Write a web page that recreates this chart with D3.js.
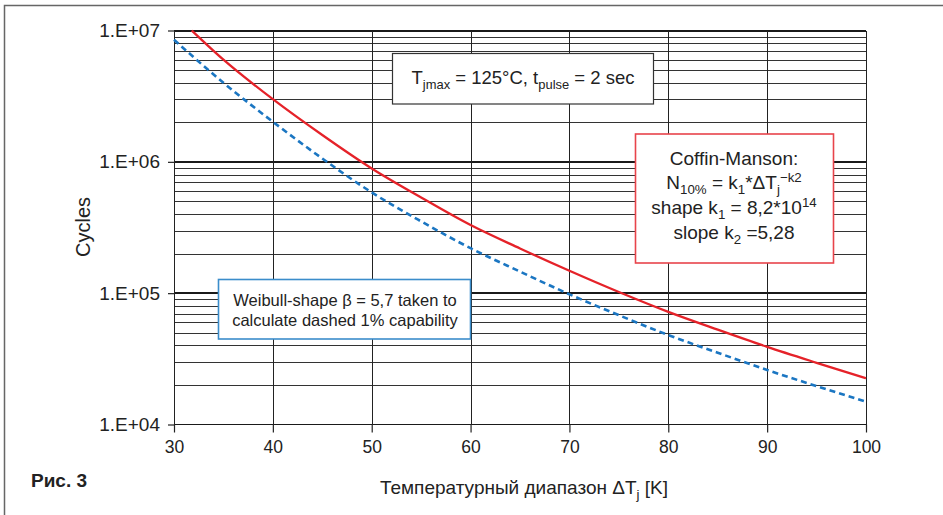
<!DOCTYPE html>
<html>
<head>
<meta charset="utf-8">
<script src="https://cdn.jsdelivr.net/npm/d3@7"></script>
<style>
  body { margin: 0; background: #fff; }
  svg { display: block; font-family: "Liberation Sans", Arial, sans-serif; }
</style>
</head>
<body>
<div id="chart"></div>
<script>
// values
let dT_red = [31.8, 35, 40, 45, 50, 55, 60, 65, 70, 75, 80, 85, 90, 95, 100];
let cycles_red = [1.0e7, 6.0e6, 3.0e6, 1.6e6, 8.9e5, 5.35e5, 3.3e5, 2.19e5, 1.48e5, 1.02e5, 7.2e4, 5.27e4, 3.9e4, 2.95e4, 2.25e4];
let dT_blue = [30, 35, 40, 45, 50, 55, 60, 65, 70, 75, 80, 85, 90, 95, 100];
let cycles_blue = [8.5e6, 4.0e6, 2.02e6, 1.06e6, 5.85e5, 3.52e5, 2.2e5, 1.46e5, 9.8e4, 6.8e4, 4.8e4, 3.52e4, 2.6e4, 1.96e4, 1.49e4];
let xTicks = [30, 40, 50, 60, 70, 80, 90, 100];
let yTicks = [1e4, 1e5, 1e6, 1e7];
let yTickLabels = ['1.E+04', '1.E+05', '1.E+06', '1.E+07'];

let width = 943;
let height = 515;

let x = d3.scaleLinear().domain([30, 100]).range([174, 866]);
let y = d3.scaleLog().domain([1e4, 1e7]).range([424.5, 30.5]);

let svg = d3.select('#chart').append('svg')
            .attr('width', width)
            .attr('height', height);

// outer frame (top + left)
svg.append('path')
    .attr('d', 'M4.5,515 V5.5 H943')
    .attr('fill', 'none')
    .attr('stroke', '#666')
    .attr('stroke-width', 1.5);

// grid
let grid = svg.append('g').attr('shape-rendering', 'crispEdges');
let minor = [];
for (let e = 4; e < 7; e++) {
    for (let k = 2; k <= 9; k++) minor.push(k * Math.pow(10, e));
}
grid.selectAll('.hminor').data(minor).join('line')
    .attr('x1', x(30)).attr('x2', x(100))
    .attr('y1', d => Math.round(y(d)) + 0.5).attr('y2', d => Math.round(y(d)) + 0.5)
    .attr('stroke', '#333').attr('stroke-width', 1);
grid.selectAll('.hmajor').data(yTicks).join('line')
    .attr('x1', x(30)).attr('x2', x(100))
    .attr('y1', d => y(d)).attr('y2', d => y(d))
    .attr('stroke', '#1a1a1a').attr('stroke-width', d => d == 1e4 ? 1.5 : 2);
grid.selectAll('.vline').data(xTicks).join('line')
    .attr('x1', d => Math.round(x(d)) + 0.5).attr('x2', d => Math.round(x(d)) + 0.5)
    .attr('y1', y(1e7)).attr('y2', y(1e4))
    .attr('stroke', '#222').attr('stroke-width', 1.2);

// axes
let yAxis = svg.append('g')
    .attr('transform', `translate(${x(30)},0)`)
    .call(d3.axisLeft(y).tickValues(yTicks).tickFormat((d, i) => yTickLabels[i]).tickSize(6).tickPadding(8));
yAxis.select('.domain').remove();
yAxis.selectAll('text').attr('font-size', 19).attr('fill', '#222').attr('font-family', null);
yAxis.selectAll('line').attr('stroke', '#222').attr('stroke-width', 1.2);

let xAxis = svg.append('g')
    .attr('transform', `translate(0,${y(1e4)})`)
    .call(d3.axisBottom(x).tickValues(xTicks).tickSize(8).tickPadding(8));
xAxis.select('.domain').remove();
xAxis.selectAll('text').attr('font-size', 17.5).attr('fill', '#222').attr('font-family', null);
xAxis.selectAll('line').attr('stroke', '#222').attr('stroke-width', 1.2);

// curves
let line = d3.line()
    .x(d => x(d[0]))
    .y(d => y(d[1]))
    .curve(d3.curveMonotoneX);

svg.append('path')
    .datum(dT_blue.map((d, i) => [d, cycles_blue[i]]))
    .attr('d', line)
    .attr('fill', 'none')
    .attr('stroke', '#1b76c2')
    .attr('stroke-width', 2.6)
    .attr('stroke-dasharray', '6,4');

svg.append('path')
    .datum(dT_red.map((d, i) => [d, cycles_red[i]]))
    .attr('d', line)
    .attr('fill', 'none')
    .attr('stroke', '#e52229')
    .attr('stroke-width', 2.3);

// text with sub / sup parts
let richText = (g, parts, tx, ty, size) => {
    let t = g.append('text')
        .attr('x', tx).attr('y', ty)
        .attr('text-anchor', 'middle')
        .attr('font-size', size)
        .attr('fill', '#222');
    let shift = 0;
    parts.forEach(p => {
        let s = typeof p === 'string' ? {t: p} : p;
        let target = s.sub ? 5 : s.sup ? -7 : 0;
        t.append('tspan')
            .attr('dy', target - shift)
            .attr('font-size', s.sub || s.sup ? size * 0.7 : null)
            .text(s.t);
        shift = target;
    });
    return t;
};

// box 1
svg.append('rect')
    .attr('x', 392.5).attr('y', 53.5).attr('width', 261).attr('height', 50.5)
    .attr('fill', '#fff').attr('stroke', '#333').attr('stroke-width', 1.2);
richText(svg, ['T', {t: 'jmax', sub: 1}, ' = 125°C, t', {t: 'pulse', sub: 1}, ' = 2 sec'], 523, 84, 18.5);

// Coffin-Manson box
svg.append('rect')
    .attr('x', 635.5).attr('y', 134).attr('width', 198).attr('height', 129)
    .attr('fill', '#fff').attr('stroke', '#e8444b').attr('stroke-width', 1.6);
richText(svg, ['Coffin-Manson:'], 734, 165, 19);
richText(svg, ['N', {t: '10%', sub: 1}, ' = k', {t: '1', sub: 1}, '*ΔT', {t: 'j', sub: 1}, {t: '−k2', sup: 1}], 734, 189, 19);
richText(svg, ['shape k', {t: '1', sub: 1}, ' = 8,2*10', {t: '14', sup: 1}], 734, 214, 19);
richText(svg, ['slope k', {t: '2', sub: 1}, ' =5,28'], 734, 238.5, 19);

// Weibull box
svg.append('rect')
    .attr('x', 218.5).attr('y', 279.5).attr('width', 252).attr('height', 59.5)
    .attr('fill', '#fff').attr('stroke', '#3b8dcb').attr('stroke-width', 1.6);
richText(svg, ['Weibull-shape β = 5,7 taken to'], 345, 306, 16.5);
richText(svg, ['calculate dashed 1% capability'], 345, 325.5, 16.5);

// axis titles
richText(svg, ['Температурный диапазон ΔT', {t: 'j', sub: 1}, ' [K]'], 524, 494, 19);

svg.append('text')
    .attr('transform', 'translate(90,227) rotate(-90)')
    .attr('text-anchor', 'middle')
    .attr('font-size', 20)
    .attr('fill', '#222')
    .text('Cycles');

svg.append('text')
    .attr('x', 31).attr('y', 487)
    .attr('font-size', 19)
    .attr('font-weight', 'bold')
    .attr('fill', '#222')
    .text('Рис. 3');
</script>
</body>
</html>
